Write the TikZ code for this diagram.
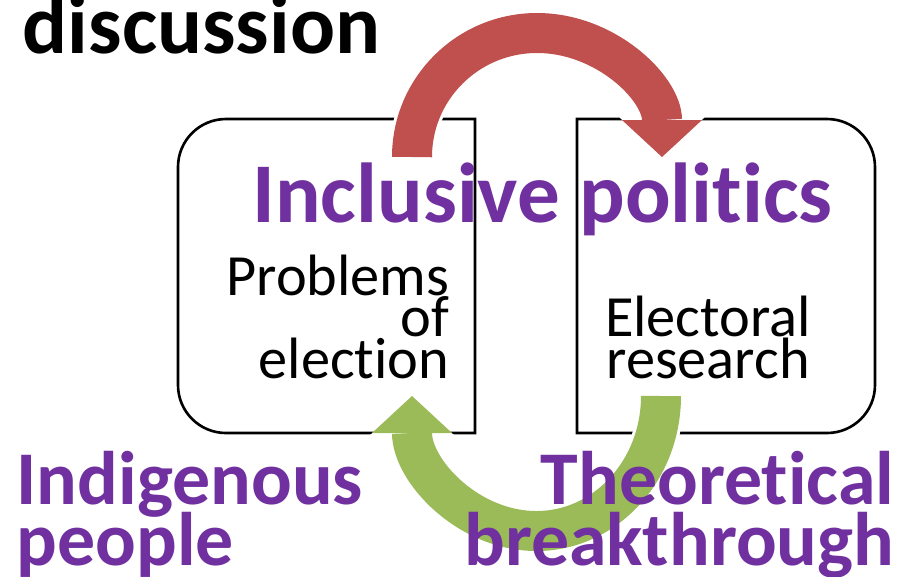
\documentclass[tikz,border=0pt]{standalone}
\usepackage{fontspec}
\setmainfont{Carlito}[Ligatures=CommonOff]
\usetikzlibrary{arrows.meta}
\definecolor{ppurple}{RGB}{112,48,160}
\definecolor{pred}{RGB}{192,80,77}
\definecolor{pgreen}{RGB}{155,187,89}

\begin{document}
\begin{tikzpicture}[
  box/.style={rectangle,inner sep=0pt,outer sep=0pt,minimum width=2.97cm,minimum height=3.14cm},
  boxline/.style={line width=0.75pt,black},
  bigword/.style={font={\fontsize{21.6}{17.1}\selectfont\bfseries\lineskiplimit=-20pt},text=ppurple,inner sep=0pt},
  smallword/.style={font={\fontsize{16.6}{11.7}\selectfont\lineskiplimit=-20pt},inner sep=0pt},
  curvearrow/.style={line width=4mm,-{Triangle[width=8mm,length=3.7mm,line width=0pt]}},
  halo/.style={white,line width=4.6mm,-{Triangle[width=8.8mm,length=4.1mm,line width=0pt]}}]
\path[use as bounding box,clip] (0,0) rectangle (9.03,5.76);
% the two boxes
\node[box] (lbox) at (3.265,3.00) {};
\node[box,minimum width=2.98cm] (rbox) at (7.26,3.00) {};
\draw[boxline] (lbox.north east) -- ([xshift=4.8mm]lbox.north west) arc[start angle=90,end angle=180,radius=4.8mm]
 -- ([yshift=4.8mm]lbox.south west) arc[start angle=180,end angle=270,radius=4.8mm] -- (lbox.south east) -- cycle;
\draw[boxline] (rbox.north west) -- ([xshift=-4.8mm]rbox.north east) arc[start angle=90,end angle=0,radius=4.8mm]
 -- ([yshift=4.8mm]rbox.south east) arc[start angle=0,end angle=-90,radius=4.8mm] -- (rbox.south west) -- cycle;
% curved arrows
\coordinate (redfoot) at (4.12,4.19);
\coordinate (greenfoot) at (6.61,1.80);
\draw[halo] (redfoot) arc[start angle=180,end angle=0,x radius=1.25cm,y radius=1.24cm];
\draw[curvearrow,pred] (redfoot) arc[start angle=180,end angle=0,x radius=1.25cm,y radius=1.24cm];
\draw[halo] (greenfoot) arc[start angle=0,end angle=-180,x radius=1.245cm,y radius=1.35cm];
\draw[curvearrow,pgreen] (greenfoot) arc[start angle=0,end angle=-180,x radius=1.245cm,y radius=1.35cm];
% texts
\node[font=\fontsize{23.9}{28}\selectfont\bfseries,anchor=base,inner sep=0pt] (topic) at (2.015,5.23) {discussion};
\node[font=\fontsize{24.2}{29}\selectfont\bfseries,text=ppurple,anchor=base,inner sep=0pt] (theme) at (5.425,3.54) {Inclusive politics};
\node[smallword,align=right,anchor=base east] (probs) at (4.50,1.98) {Problems\\of\\election};
\node[smallword,align=center,anchor=base] (research) at (7.08,1.98) {Electoral\\research};
\node[bigword,align=left,anchor=base west] (indig) at (0.16,0.11) {Indigenous\\people};
\node[bigword,align=right,anchor=base east] (theory) at (8.95,0.11) {Theoretical\\breakthrough};
\end{tikzpicture}
\end{document}
